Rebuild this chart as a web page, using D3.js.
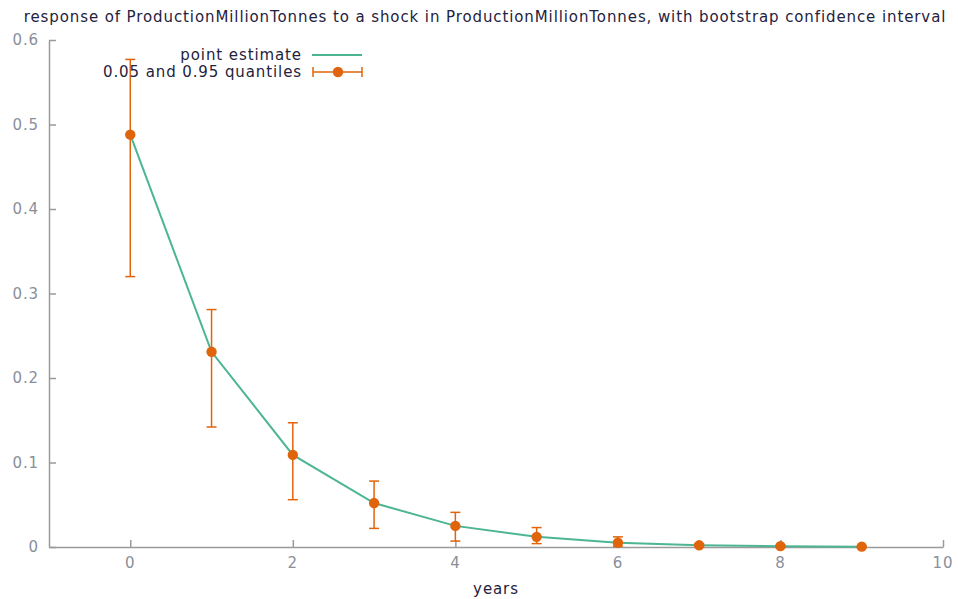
<!DOCTYPE html>
<html>
<head>
<meta charset="utf-8">
<script src="https://cdn.jsdelivr.net/npm/d3@7"></script>
<style>
  body { margin: 0; background: #fff; }
  text { font-family: 'DejaVu Sans', Verdana, sans-serif; }
</style>
</head>
<body>
<svg id="chart"></svg>
<script>
const horizons = [0, 1, 2, 3, 4, 5, 6, 7, 8, 9];
const pointEstimate = [0.488, 0.231, 0.109, 0.052, 0.025, 0.012, 0.005, 0.002, 0.001, 0.0004];
const lowerQuantile = [0.320, 0.142, 0.056, 0.022, 0.007, 0.004, 0.001, 0.0005, 0.0002, 0.0001];
const upperQuantile = [0.577, 0.281, 0.147, 0.078, 0.041, 0.023, 0.012, 0.004, 0.002, 0.001];
const xTicks = [0, 2, 4, 6, 8, 10];
const yTicks = [0, 0.1, 0.2, 0.3, 0.4, 0.5, 0.6];

const width = 958;
const height = 599;
const margin = { top: 40, right: 15, bottom: 52, left: 49 };
const green = '#4cb594';
const orange = '#e0640c';
const textColor = '#1f2240';
const fontSize = 15;
const spacing = '0.9px';

const x = d3.scaleLinear()
  .domain([-1, 10])
  .range([margin.left, width - margin.right]);

const y = d3.scaleLinear()
  .domain([0, 0.6])
  .range([height - margin.bottom, margin.top]);

const svg = d3.select('#chart')
  .attr('width', width)
  .attr('height', height);

const data = horizons.map((h, i) => ({
  h, v: pointEstimate[i], lo: lowerQuantile[i], hi: upperQuantile[i]
}));

// axes, gnuplot style: ticks point inward
const xAxis = g => g
  .attr('transform', `translate(0,${y(0)})`)
  .call(d3.axisTop(x).tickValues(xTicks).tickSize(7).tickSizeOuter(0))
  .call(g => g.selectAll('.tick text').remove());

const yAxis = g => g
  .attr('transform', `translate(${x(-1)},0)`)
  .call(d3.axisRight(y).tickValues(yTicks).tickSize(7).tickSizeOuter(0))
  .call(g => g.selectAll('.tick text').remove());

svg.append('g').call(xAxis)
  .call(g => g.selectAll('path, line').attr('stroke', '#9a9a9a').attr('stroke-width', 1.5));
svg.append('g').call(yAxis)
  .call(g => g.selectAll('path, line').attr('stroke', '#9a9a9a').attr('stroke-width', 1.5));

svg.append('g')
  .attr('font-size', fontSize)
  .attr('letter-spacing', spacing)
  .attr('fill', '#8a8f9a')
  .attr('text-anchor', 'middle')
  .selectAll('text')
  .data(xTicks)
  .join('text')
  .attr('x', d => x(d))
  .attr('y', y(0) + 16)
  .attr('dy', '0.35em')
  .text(d => d);

svg.append('g')
  .attr('font-size', fontSize)
  .attr('letter-spacing', spacing)
  .attr('fill', '#8a8f9a')
  .attr('text-anchor', 'end')
  .selectAll('text')
  .data(yTicks)
  .join('text')
  .attr('x', x(-1) - 10)
  .attr('y', d => y(d))
  .attr('dy', '0.35em')
  .text(d => d === 0 ? '0' : d3.format('.1f')(d));

// point estimate line
svg.append('path')
  .datum(data)
  .attr('fill', 'none')
  .attr('stroke', green)
  .attr('stroke-width', 2)
  .attr('d', d3.line().x(d => x(d.h)).y(d => y(d.v)));

// error bars
const bars = svg.append('g')
  .attr('stroke', orange)
  .attr('stroke-width', 1.5)
  .selectAll('g')
  .data(data)
  .join('g');

bars.append('line')
  .attr('x1', d => x(d.h)).attr('x2', d => x(d.h))
  .attr('y1', d => y(d.lo)).attr('y2', d => y(d.hi));
bars.append('line')
  .attr('x1', d => x(d.h) - 5).attr('x2', d => x(d.h) + 5)
  .attr('y1', d => y(d.lo)).attr('y2', d => y(d.lo));
bars.append('line')
  .attr('x1', d => x(d.h) - 5).attr('x2', d => x(d.h) + 5)
  .attr('y1', d => y(d.hi)).attr('y2', d => y(d.hi));

svg.append('g')
  .attr('fill', orange)
  .selectAll('circle')
  .data(data)
  .join('circle')
  .attr('cx', d => x(d.h))
  .attr('cy', d => y(d.v))
  .attr('r', 5.2);

// legend
const legend = svg.append('g')
  .attr('font-size', fontSize)
  .attr('letter-spacing', spacing)
  .attr('fill', textColor);
legend.append('text')
  .attr('x', 302).attr('y', 55).attr('dy', '0.35em')
  .attr('text-anchor', 'end')
  .text('point estimate');
legend.append('line')
  .attr('x1', 312).attr('x2', 362).attr('y1', 55).attr('y2', 55)
  .attr('stroke', green).attr('stroke-width', 2);
legend.append('text')
  .attr('x', 302).attr('y', 72).attr('dy', '0.35em')
  .attr('text-anchor', 'end')
  .text('0.05 and 0.95 quantiles');
const lg = legend.append('g').attr('stroke', orange).attr('stroke-width', 1.5);
lg.append('line').attr('x1', 313).attr('x2', 362).attr('y1', 72).attr('y2', 72);
lg.append('line').attr('x1', 313).attr('x2', 313).attr('y1', 67).attr('y2', 77);
lg.append('line').attr('x1', 362).attr('x2', 362).attr('y1', 67).attr('y2', 77);
legend.append('circle').attr('cx', 338).attr('cy', 72).attr('r', 5.2).attr('fill', orange);

// title and axis label
svg.append('text')
  .attr('x', 485).attr('y', 17).attr('dy', '0.35em')
  .attr('text-anchor', 'middle')
  .attr('font-size', fontSize)
  .attr('letter-spacing', spacing)
  .attr('fill', textColor)
  .text('response of ProductionMillionTonnes to a shock in ProductionMillionTonnes, with bootstrap confidence interval');

svg.append('text')
  .attr('x', 496).attr('y', 589).attr('dy', '0.35em')
  .attr('text-anchor', 'middle')
  .attr('font-size', fontSize)
  .attr('letter-spacing', spacing)
  .attr('fill', textColor)
  .text('years');
</script>
</body>
</html>
